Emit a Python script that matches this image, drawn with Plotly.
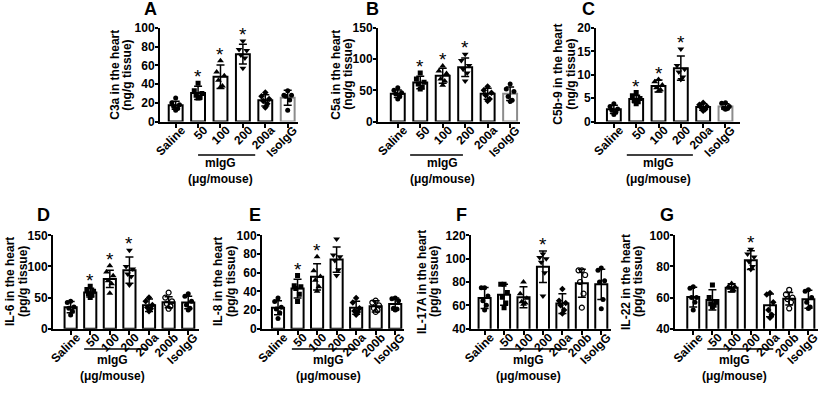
import plotly.graph_objects as go

W, H = 824, 395

TOP_CATS = ["Saline", "50", "100", "200", "200a", "IsoIgG"]
BOT_CATS = ["Saline", "50", "100", "200", "200a", "200b", "IsoIgG"]

# ---- Panel A: C3a (ng/g tissue)
c3a_mean = [17.3, 30.6, 47.8, 72.0, 22.7, 25.5]
c3a_sd = [4.3, 7.0, 12.5, 10.5, 6.0, 8.0]
c3a_pts = [[25, 20, 18, 16, 14, 12], [41, 33, 30, 28, 26, 25], [65, 53, 49, 44, 38, 37],
           [86, 77, 76, 71, 68, 57], [31, 27, 24, 22, 19, 15], [33, 28, 28, 27, 23, 12]]

# ---- Panel B: C5a (ng/g tissue)
c5a_mean = [44.5, 62.5, 73.5, 87.0, 44.5, 44.5]
c5a_sd = [6, 10, 12, 15, 9, 11]
c5a_pts = [[54, 50, 46, 44, 40, 36], [78, 68, 63, 60, 55, 52], [89, 81, 77, 68, 65, 58],
           [108, 98, 90, 84, 78, 65], [56, 50, 46, 42, 36, 33], [60, 52, 48, 40, 34, 32]]

# ---- Panel C: C5b-9 (ng/g tissue)
c5b9_mean = [2.6, 4.8, 7.6, 11.4, 3.1, 3.2]
c5b9_sd = [0.9, 0.8, 1.3, 2.6, 0.7, 0.6]
c5b9_pts = [[3.8, 3.2, 2.7, 2.4, 2.0, 1.5], [6.2, 5.5, 4.9, 4.5, 4.2, 3.8], [9.0, 8.5, 7.8, 7.2, 6.8, 6.5],
            [15.5, 12.0, 11.2, 10.6, 9.5, 9.0], [4.0, 3.6, 3.2, 3.0, 2.6, 2.3], [4.0, 3.9, 3.2, 2.9, 2.8, 2.6]]

# ---- Panel D: IL-6 (pg/g tissue)
il6_mean = [34.5, 58.0, 80.0, 94.0, 37.5, 42.5, 42.0]
il6_sd = [9, 7, 14, 21, 10, 9, 10]
il6_pts = [[44, 42, 35, 33, 28, 22], [68, 63, 60, 56, 54, 50], [101, 91, 85, 77, 72, 57],
           [126, 100, 96, 88, 84, 70], [50, 44, 38, 34, 32, 28], [58, 50, 44, 40, 36, 32],
           [56, 52, 44, 38, 33, 30]]

# ---- Panel E: IL-8 (pg/g tissue)
il8_mean = [22.5, 43.0, 55.5, 74.0, 22.5, 24.0, 26.5]
il8_sd = [7.5, 10, 14, 13.5, 7, 6, 6.5]
il8_pts = [[33, 29, 23, 21, 17, 11], [57, 46, 45, 43, 37, 29], [77, 62, 56, 52, 45, 40],
           [96, 79, 77, 73, 63, 57], [33, 28, 22, 19, 18, 15], [30, 28, 25, 22, 20, 18],
           [33, 32, 30, 22, 21, 20]]

# ---- Panel F: IL-17A (pg/g tissue)
il17_mean = [66.3, 69.0, 67.0, 93.0, 61.5, 79.0, 78.0]
il17_sd = [9, 9, 9, 13.5, 8.5, 12, 13]
il17_pts = [[75, 75, 68, 64, 60, 56], [78, 78, 71, 67, 62, 58], [80, 70, 66, 63, 62, 61],
            [104, 101, 100, 97, 88, 68], [74, 64, 62, 60, 56, 53], [90, 90, 86, 80, 70, 58],
            [92, 90, 81, 80, 65, 57]]

# ---- Panel G: IL-22 (pg/g tissue)
il22_mean = [60.3, 58.5, 66.3, 84.0, 55.0, 59.3, 58.9]
il22_sd = [6.4, 6.5, 2.5, 6.0, 7.3, 4.0, 5.8]
il22_pts = [[67, 66, 60, 60, 57, 52], [68, 60, 57, 56, 55, 54], [69, 67, 67, 66, 65, 64],
            [91, 88, 86, 83, 80, 78], [63, 62, 57, 52, 49, 47], [65, 62, 60, 59, 57, 53],
            [65, 64, 60, 57, 54, 53]]

TOP_SYMBOLS = ["circle", "square", "triangle-up", "triangle-down", "diamond", "circle"]
BOT_SYMBOLS = ["circle", "square", "triangle-up", "triangle-down", "diamond", "circle-open", "circle"]
JITTER = [0.0, -0.17, 0.17, -0.09, 0.09, 0.0]

FONT = "Liberation Sans, Arial, sans-serif"

# layout config: axis pixel extents, ranges, star groups, bracket, title offsets
panels = [
    dict(letter="A", cats=TOP_CATS, mean=c3a_mean, sd=c3a_sd, pts=c3a_pts, sym=TOP_SYMBOLS,
         t1="C3a in the heart", t2="(ng/g tissue)", toff=(45, 33), yr=[0, 100], dtick=20,
         xr=[-0.7, 5.46], xpx=(160, 298), row=0, stars=[1, 2, 3], br=(1.0, 3.55), lab=2.0,
         lpx=(150, 9), grey_last=True),
    dict(letter="B", cats=TOP_CATS, mean=c5a_mean, sd=c5a_sd, pts=c5a_pts, sym=TOP_SYMBOLS,
         t1="C5a in the heart", t2="(ng/g tissue)", toff=(42, 30), yr=[0, 150], dtick=50,
         xr=[-0.88, 5.44], xpx=(378, 520), row=0, stars=[1, 2, 3], br=(0.55, 2.9), lab=2.0,
         lpx=(372, 9), grey_last=True),
    dict(letter="C", cats=TOP_CATS, mean=c5b9_mean, sd=c5b9_sd, pts=c5b9_pts, sym=TOP_SYMBOLS,
         t1="C5b-9 in the heart", t2="(ng/g tissue)", toff=(38, 25), yr=[0, 20], dtick=5,
         xr=[-0.8, 5.65], xpx=(596, 740), row=0, stars=[1, 2, 3], br=(0.58, 3.54), lab=2.0,
         lpx=(588, 9), grey_last=True),
    dict(letter="D", cats=BOT_CATS, mean=il6_mean, sd=il6_sd, pts=il6_pts, sym=BOT_SYMBOLS,
         t1="IL-6 in the heart", t2="(pg/g tissue)", toff=(43, 30), yr=[0, 150], dtick=50,
         xr=[-0.9, 6.55], xpx=(53, 199), row=1, stars=[1, 2, 3], br=(0.69, 3.95), lab=2.15,
         lpx=(43, 215), grey_last=False),
    dict(letter="E", cats=BOT_CATS, mean=il8_mean, sd=il8_sd, pts=il8_pts, sym=BOT_SYMBOLS,
         t1="IL-8 in the heart", t2="(pg/g tissue)", toff=(44, 31), yr=[0, 100], dtick=20,
         xr=[-0.82, 6.45], xpx=(262, 404), row=1, stars=[1, 2, 3], br=(0.71, 4.08), lab=2.6,
         lpx=(255, 215), grey_last=False),
    dict(letter="F", cats=BOT_CATS, mean=il17_mean, sd=il17_sd, pts=il17_pts, sym=BOT_SYMBOLS,
         t1="IL-17A in the heart", t2="(pg/g tissue)", toff=(49, 37), yr=[40, 120], dtick=20,
         xr=[-0.7, 6.5], xpx=(471, 611), row=1, stars=[3], br=(0.78, 4.25), lab=2.26,
         lpx=(461, 215), grey_last=False),
    dict(letter="G", cats=BOT_CATS, mean=il22_mean, sd=il22_sd, pts=il22_pts, sym=BOT_SYMBOLS,
         t1="IL-22 in the heart", t2="(pg/g tissue)", toff=(49, 37), yr=[40, 100], dtick=20,
         xr=[-0.95, 6.5], xpx=(675, 818), row=1, stars=[3], br=(0.73, 4.17), lab=2.14,
         lpx=(667, 215), grey_last=False),
]

ROWS_PX = [(28, 121.5), (235.3, 328.7)]
BRACKET_Y = [-0.358, -0.217]
MIGG_Y = [-0.444, -0.335]
UNIT_Y = [-0.615, -0.506]

fig = go.Figure()
layout = dict(
    width=W, height=H, margin=dict(l=0, r=0, t=0, b=0),
    paper_bgcolor="white", plot_bgcolor="white", showlegend=False,
    font=dict(family=FONT, size=12, color="black", weight="bold"),
)
annotations = []
shapes = []

for i, p in enumerate(panels, start=1):
    xa = "x" if i == 1 else f"x{i}"
    ya = "y" if i == 1 else f"y{i}"
    n = len(p["cats"])
    xs = list(range(n))
    top, bot = ROWS_PX[p["row"]]
    span = p["yr"][1] - p["yr"][0]

    outline = ["black"] * n
    if p["grey_last"]:
        outline[-1] = "#8c8c8c"

    fig.add_trace(go.Bar(
        x=xs, y=p["mean"], width=0.62, xaxis=xa, yaxis=ya,
        marker=dict(color="white", line=dict(color=outline, width=2)),
        error_y=dict(type="data", array=p["sd"], color="black", thickness=1.5, width=4),
        hoverinfo="skip",
    ))
    for j in range(n):
        vals = p["pts"][j]
        sym = p["sym"][j]
        size = 6 if "triangle" in sym else 5
        fig.add_trace(go.Scatter(
            x=[j + JITTER[k % len(JITTER)] for k in range(len(vals))], y=vals,
            mode="markers", xaxis=xa, yaxis=ya,
            marker=dict(symbol=sym, size=size, color="black",
                        line=dict(color="black", width=1.2 if "open" in sym else 0)),
            hoverinfo="skip",
        ))
    for j in p["stars"]:
        sy = max(max(p["pts"][j]), p["mean"][j] + p["sd"][j]) + 0.1 * span
        annotations.append(dict(x=j, y=sy, xref=xa, yref=ya, text="*", showarrow=False,
                                yanchor="middle", yshift=-3,
                                font=dict(size=19, family=FONT, weight="normal")))

    dom_x = [p["xpx"][0] / W, p["xpx"][1] / W]
    dom_y = [1 - bot / H, 1 - top / H]
    axkey = "xaxis" if i == 1 else f"xaxis{i}"
    aykey = "yaxis" if i == 1 else f"yaxis{i}"
    layout[axkey] = dict(
        domain=dom_x, range=p["xr"], anchor=ya, tickmode="array", tickvals=xs,
        ticktext=p["cats"], tickangle=-45, ticks="outside", ticklen=4, tickwidth=1.5,
        tickcolor="black", showline=True, linewidth=2, linecolor="black",
        showgrid=False, zeroline=False, automargin=False, fixedrange=True,
        ticklabelstandoff=-9, ticklabelshift=6,
        tickfont=dict(size=12, family=FONT, weight="bold"),
    )
    layout[aykey] = dict(
        domain=dom_y, range=p["yr"], anchor=xa, dtick=p["dtick"], tick0=p["yr"][0],
        ticks="outside", ticklen=3, tickwidth=1.5, tickcolor="black",
        showline=True, linewidth=2, linecolor="black", showgrid=False, zeroline=False,
        automargin=False, fixedrange=True, ticklabelstandoff=-2,
        tickfont=dict(size=12, family=FONT, weight="bold"),
    )

    # y-axis title, two tightly spaced lines
    ymid = 1 - (top + bot) / 2 / H
    for txt, off in ((p["t1"], p["toff"][0]), (p["t2"], p["toff"][1])):
        annotations.append(dict(
            x=(p["xpx"][0] - off) / W, y=ymid, xref="paper", yref="paper",
            text=txt, textangle=-90, showarrow=False, xanchor="center", yanchor="middle",
            font=dict(size=12, family=FONT, weight="bold")))
    # panel letter
    annotations.append(dict(
        x=p["lpx"][0] / W, y=1 - p["lpx"][1] / H, xref="paper", yref="paper",
        text=p["letter"], showarrow=False, xanchor="center", yanchor="middle",
        font=dict(size=18, family=FONT, weight="bold")))
    # mIgG bracket
    shapes.append(dict(type="line", xref=xa, yref=f"{ya} domain",
                       x0=p["br"][0], x1=p["br"][1],
                       y0=BRACKET_Y[p["row"]], y1=BRACKET_Y[p["row"]],
                       line=dict(color="black", width=1.5)))
    annotations.append(dict(x=p["lab"], y=MIGG_Y[p["row"]], xref=xa, yref=f"{ya} domain",
                            text="mIgG", showarrow=False, xanchor="center", yanchor="middle",
                            font=dict(size=12, family=FONT, weight="bold")))
    annotations.append(dict(x=p["lab"], y=UNIT_Y[p["row"]], xref=xa, yref=f"{ya} domain",
                            text="(μg/mouse)", showarrow=False, xanchor="center", yanchor="middle",
                            font=dict(size=12, family=FONT, weight="bold")))

layout["annotations"] = annotations
layout["shapes"] = shapes
fig.update_layout(**layout)
fig.write_html("out.html", config={"displayModeBar": False},
               post_script="document.body.style.margin='0';document.body.style.overflow='hidden';")
